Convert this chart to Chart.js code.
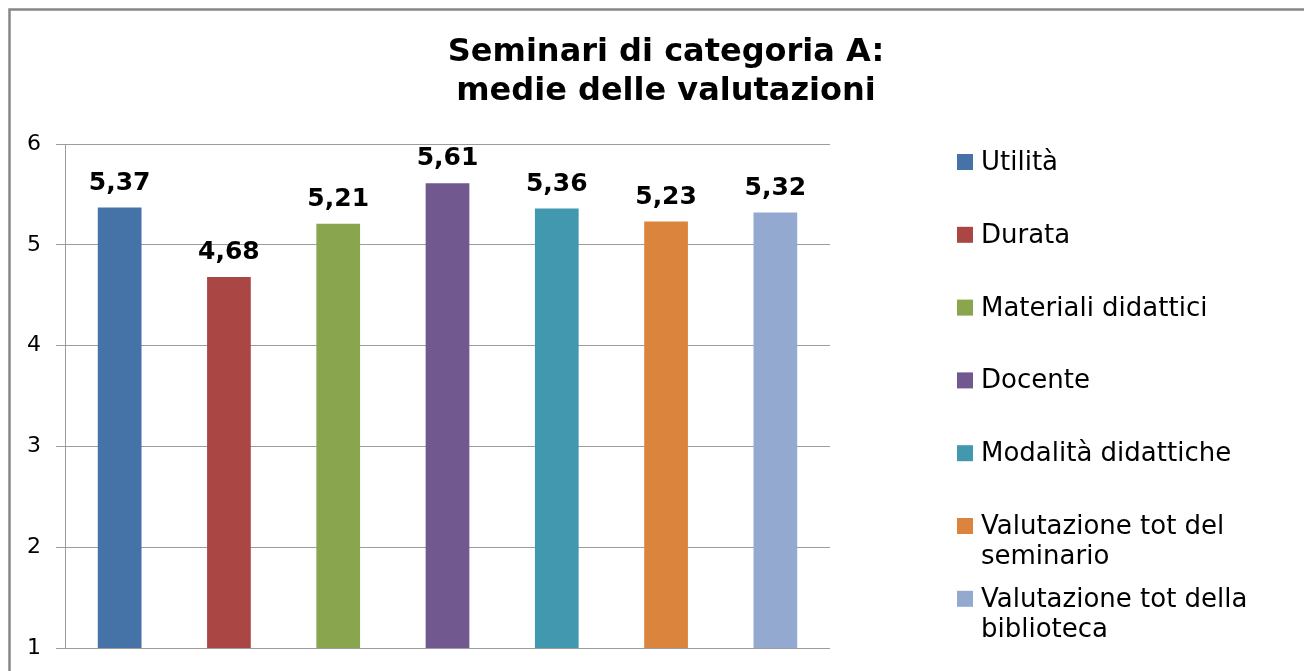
<!DOCTYPE html>
<html lang="it">
<head>
<meta charset="UTF-8">
<title>Seminari di categoria A</title>
<script src="https://cdn.jsdelivr.net/npm/chart.js@4.4.0/dist/chart.umd.min.js"></script>
<style>
    html, body { margin: 0; padding: 0; background: #fff; }
    canvas { display: block; }
</style>
</head>
<body>
<canvas id="canvas" width="1304" height="671"></canvas>
<script>
    const titleLines = ['Seminari di categoria A:', 'medie delle valutazioni'];
    const categories = ['Utilità', 'Durata', 'Materiali didattici', 'Docente',
        'Modalità didattiche', 'Valutazione tot del seminario', 'Valutazione tot della biblioteca'];
    // how the legend wraps each entry
    const legendLines = [['Utilità'], ['Durata'], ['Materiali didattici'], ['Docente'],
        ['Modalità didattiche'], ['Valutazione tot del', 'seminario'], ['Valutazione tot della', 'biblioteca']];
    const values = [5.37, 4.68, 5.21, 5.61, 5.36, 5.23, 5.32];
    const colors = ['#4572A7', '#AA4643', '#89A54E', '#71588F', '#4198AF', '#DB843D', '#93A9CF'];
    const yMin = 1, yMax = 6, yStep = 1;

    const FONT = '"DejaVu Sans", Verdana, sans-serif';

    const framePlugin = {
        id: 'frame',
        beforeDraw(chart) {
            const ctx = chart.ctx;
            ctx.save();
            ctx.strokeStyle = '#878787';
            ctx.lineWidth = 2.5;
            ctx.strokeRect(9.5, 9.5, 1400, 800);
            ctx.restore();
        }
    };

    const titlePlugin = {
        id: 'titleText',
        afterDraw(chart) {
            const ctx = chart.ctx;
            ctx.save();
            ctx.fillStyle = '#000';
            ctx.font = 'bold 32px ' + FONT;
            ctx.textAlign = 'center';
            ctx.textBaseline = 'alphabetic';
            titleLines.forEach((t, i) => ctx.fillText(t, 666, 61 + i * 39));
            ctx.restore();
        }
    };

    const valuePlugin = {
        id: 'valueLabels',
        afterDatasetsDraw(chart) {
            const ctx = chart.ctx;
            ctx.save();
            ctx.fillStyle = '#000';
            ctx.font = 'bold 25px ' + FONT;
            ctx.textAlign = 'center';
            ctx.textBaseline = 'alphabetic';
            chart.data.datasets.forEach((ds, i) => {
                const el = chart.getDatasetMeta(i).data[0];
                const txt = ds.data[0].toFixed(2).replace('.', ',');
                ctx.fillText(txt, el.x, el.y - 18);
            });
            ctx.restore();
        }
    };

    const legendPlugin = {
        id: 'sideLegend',
        afterDraw(chart) {
            const ctx = chart.ctx;
            ctx.save();
            ctx.font = '26px ' + FONT;
            ctx.textAlign = 'left';
            ctx.textBaseline = 'alphabetic';
            chart.data.datasets.forEach((ds, i) => {
                const base = 170 + i * 72.8;
                ctx.fillStyle = ds.backgroundColor;
                ctx.fillRect(957, base - 16, 16, 16);
                ctx.fillStyle = '#000';
                legendLines[i].forEach((line, j) => ctx.fillText(line, 981, base + j * 30));
            });
            ctx.restore();
        }
    };

    const chart = new Chart('canvas', {
        type: 'bar',
        data: {
            labels: [''],
            datasets: categories.map((c, i) => ({
                label: c,
                data: [values[i]],
                backgroundColor: colors[i]
            }))
        },
        options: {
            responsive: false,
            animation: false,
            layout: { padding: { left: 0, right: 474, top: 144, bottom: 23 } },
            datasets: { bar: { categoryPercentage: 1, barPercentage: 0.4 } },
            plugins: {
                legend: { display: false },
                title: { display: false },
                tooltip: { enabled: false }
            },
            scales: {
                x: { display: false },
                y: {
                    min: yMin,
                    max: yMax,
                    afterFit(scale) {
                        scale.width = 65;
                        scale.paddingTop = 0;
                        scale.paddingBottom = 0;
                    },
                    ticks: {
                        stepSize: yStep,
                        padding: 15,
                        color: '#000',
                        font: { family: FONT, size: 22 }
                    },
                    grid: { color: '#9c9c9c', tickLength: 9, lineWidth: 1 },
                    border: { color: '#9c9c9c', width: 1 }
                }
            }
        },
        plugins: [framePlugin, titlePlugin, valuePlugin, legendPlugin]
    });
</script>
</body>
</html>
